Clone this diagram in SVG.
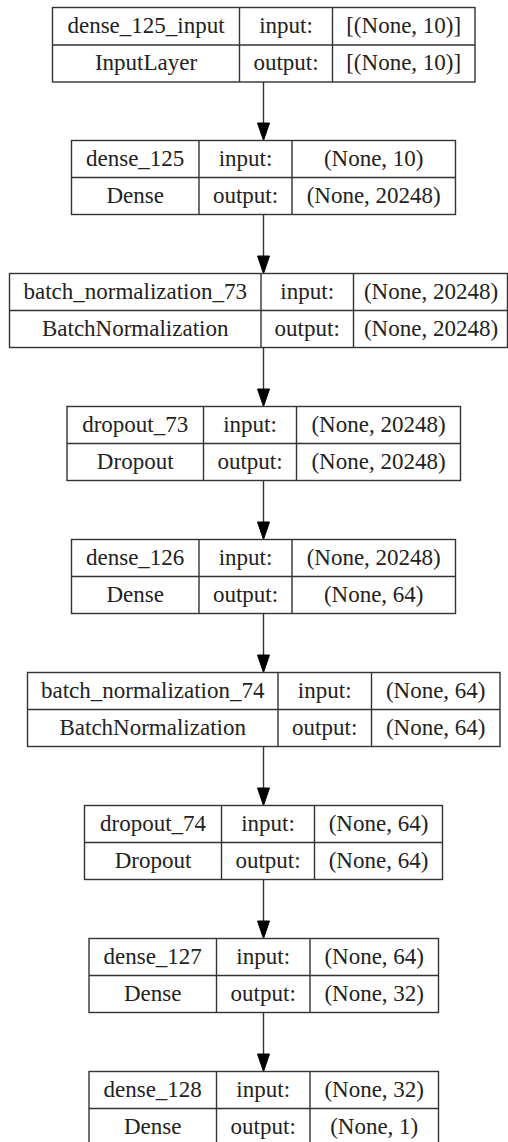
<svg xmlns="http://www.w3.org/2000/svg" width="508" height="1142" viewBox="0 0 508 1142">
<style>
.box{fill:#fff;stroke:#333;stroke-width:1.4}
.ln{stroke:#333;stroke-width:1.4;fill:none}
.t{font-family:'Liberation Serif','Times New Roman',serif;font-size:23px;fill:#222;text-anchor:middle}
.edge{stroke:#333;stroke-width:1.4;fill:none}
.head{fill:#000;stroke:#000;stroke-width:1}
</style>
<rect width="508" height="1142" fill="#fff"/>
<g id="connectors">
<line class="edge" x1="263.5" y1="82" x2="263.5" y2="123"/><polygon class="head" points="257.5,123 269.5,123 263.5,140.5"/>
<line class="edge" x1="263.5" y1="215" x2="263.5" y2="256"/><polygon class="head" points="257.5,256 269.5,256 263.5,273.5"/>
<line class="edge" x1="263.5" y1="348" x2="263.5" y2="389"/><polygon class="head" points="257.5,389 269.5,389 263.5,406.5"/>
<line class="edge" x1="263.5" y1="481" x2="263.5" y2="522"/><polygon class="head" points="257.5,522 269.5,522 263.5,539.5"/>
<line class="edge" x1="263.5" y1="614" x2="263.5" y2="655"/><polygon class="head" points="257.5,655 269.5,655 263.5,672.5"/>
<line class="edge" x1="263.5" y1="747" x2="263.5" y2="788"/><polygon class="head" points="257.5,788 269.5,788 263.5,805.5"/>
<line class="edge" x1="263.5" y1="880" x2="263.5" y2="921"/><polygon class="head" points="257.5,921 269.5,921 263.5,938.5"/>
<line class="edge" x1="263.5" y1="1013" x2="263.5" y2="1054"/><polygon class="head" points="257.5,1054 269.5,1054 263.5,1071.5"/>
</g>
<g id="node1">
<rect class="box" x="52.5" y="7.5" width="422.5" height="74.5"/>
<line class="ln" x1="52.5" y1="45" x2="475" y2="45"/>
<line class="ln" x1="239.5" y1="7.5" x2="239.5" y2="82"/>
<line class="ln" x1="332.5" y1="7.5" x2="332.5" y2="82"/>
<text class="t" x="146" y="32.5">dense_125_input</text>
<text class="t" x="286" y="32.5">input:</text>
<text class="t" x="403.7" y="32.5">[(None, 10)]</text>
<text class="t" x="146" y="70">InputLayer</text>
<text class="t" x="286" y="70">output:</text>
<text class="t" x="403.7" y="70">[(None, 10)]</text>
</g>
<g id="node2">
<rect class="box" x="71.5" y="140.5" width="384" height="74"/>
<line class="ln" x1="71.5" y1="177.5" x2="455.5" y2="177.5"/>
<line class="ln" x1="199" y1="140.5" x2="199" y2="214.5"/>
<line class="ln" x1="292" y1="140.5" x2="292" y2="214.5"/>
<text class="t" x="135.2" y="165.5">dense_125</text>
<text class="t" x="245.5" y="165.5">input:</text>
<text class="t" x="373.7" y="165.5">(None, 10)</text>
<text class="t" x="135.2" y="202.5">Dense</text>
<text class="t" x="245.5" y="202.5">output:</text>
<text class="t" x="373.7" y="202.5">(None, 20248)</text>
</g>
<g id="node3">
<rect class="box" x="9.5" y="273.5" width="498" height="74"/>
<line class="ln" x1="9.5" y1="310.5" x2="507.5" y2="310.5"/>
<line class="ln" x1="261" y1="273.5" x2="261" y2="347.5"/>
<line class="ln" x1="353.5" y1="273.5" x2="353.5" y2="347.5"/>
<text class="t" x="135.2" y="298.5">batch_normalization_73</text>
<text class="t" x="307.2" y="298.5">input:</text>
<text class="t" x="431" y="298.5">(None, 20248)</text>
<text class="t" x="135.2" y="335.5">BatchNormalization</text>
<text class="t" x="307.2" y="335.5">output:</text>
<text class="t" x="431" y="335.5">(None, 20248)</text>
</g>
<g id="node4">
<rect class="box" x="67" y="406.5" width="393.5" height="74"/>
<line class="ln" x1="67" y1="443.5" x2="460.5" y2="443.5"/>
<line class="ln" x1="203.5" y1="406.5" x2="203.5" y2="480.5"/>
<line class="ln" x1="296.5" y1="406.5" x2="296.5" y2="480.5"/>
<text class="t" x="135.2" y="431.5">dropout_73</text>
<text class="t" x="250" y="431.5">input:</text>
<text class="t" x="378.5" y="431.5">(None, 20248)</text>
<text class="t" x="135.2" y="468.5">Dropout</text>
<text class="t" x="250" y="468.5">output:</text>
<text class="t" x="378.5" y="468.5">(None, 20248)</text>
</g>
<g id="node5">
<rect class="box" x="71.5" y="539.5" width="384" height="74"/>
<line class="ln" x1="71.5" y1="576.5" x2="455.5" y2="576.5"/>
<line class="ln" x1="199" y1="539.5" x2="199" y2="613.5"/>
<line class="ln" x1="292" y1="539.5" x2="292" y2="613.5"/>
<text class="t" x="135.2" y="564.5">dense_126</text>
<text class="t" x="245.5" y="564.5">input:</text>
<text class="t" x="373.7" y="564.5">(None, 20248)</text>
<text class="t" x="135.2" y="601.5">Dense</text>
<text class="t" x="245.5" y="601.5">output:</text>
<text class="t" x="373.7" y="601.5">(None, 64)</text>
</g>
<g id="node6">
<rect class="box" x="27.5" y="672.5" width="472.5" height="74"/>
<line class="ln" x1="27.5" y1="709.5" x2="500" y2="709.5"/>
<line class="ln" x1="278" y1="672.5" x2="278" y2="746.5"/>
<line class="ln" x1="371.5" y1="672.5" x2="371.5" y2="746.5"/>
<text class="t" x="152.7" y="697.5">batch_normalization_74</text>
<text class="t" x="324.7" y="697.5">input:</text>
<text class="t" x="435.7" y="697.5">(None, 64)</text>
<text class="t" x="152.7" y="734.5">BatchNormalization</text>
<text class="t" x="324.7" y="734.5">output:</text>
<text class="t" x="435.7" y="734.5">(None, 64)</text>
</g>
<g id="node7">
<rect class="box" x="84.5" y="805.5" width="358" height="74"/>
<line class="ln" x1="84.5" y1="842.5" x2="442.5" y2="842.5"/>
<line class="ln" x1="221.5" y1="805.5" x2="221.5" y2="879.5"/>
<line class="ln" x1="314.5" y1="805.5" x2="314.5" y2="879.5"/>
<text class="t" x="153" y="830.5">dropout_74</text>
<text class="t" x="268" y="830.5">input:</text>
<text class="t" x="378.5" y="830.5">(None, 64)</text>
<text class="t" x="153" y="867.5">Dropout</text>
<text class="t" x="268" y="867.5">output:</text>
<text class="t" x="378.5" y="867.5">(None, 64)</text>
</g>
<g id="node8">
<rect class="box" x="89" y="938.5" width="349.5" height="74"/>
<line class="ln" x1="89" y1="975.5" x2="438.5" y2="975.5"/>
<line class="ln" x1="216.5" y1="938.5" x2="216.5" y2="1012.5"/>
<line class="ln" x1="310" y1="938.5" x2="310" y2="1012.5"/>
<text class="t" x="152.7" y="963.5">dense_127</text>
<text class="t" x="263.2" y="963.5">input:</text>
<text class="t" x="374.2" y="963.5">(None, 64)</text>
<text class="t" x="152.7" y="1000.5">Dense</text>
<text class="t" x="263.2" y="1000.5">output:</text>
<text class="t" x="374.2" y="1000.5">(None, 32)</text>
</g>
<g id="node9">
<rect class="box" x="89" y="1071.5" width="349.5" height="74"/>
<line class="ln" x1="89" y1="1108.5" x2="438.5" y2="1108.5"/>
<line class="ln" x1="216.5" y1="1071.5" x2="216.5" y2="1145.5"/>
<line class="ln" x1="310" y1="1071.5" x2="310" y2="1145.5"/>
<text class="t" x="152.7" y="1096.5">dense_128</text>
<text class="t" x="263.2" y="1096.5">input:</text>
<text class="t" x="374.2" y="1096.5">(None, 32)</text>
<text class="t" x="152.7" y="1133.5">Dense</text>
<text class="t" x="263.2" y="1133.5">output:</text>
<text class="t" x="374.2" y="1133.5">(None, 1)</text>
</g>
</svg>
